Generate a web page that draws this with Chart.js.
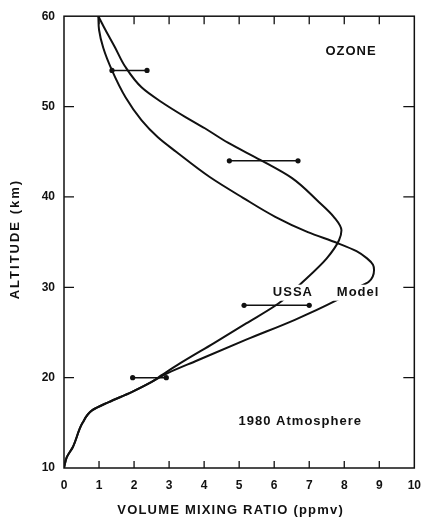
<!DOCTYPE html>
<html>
<head>
<meta charset="utf-8">
<script src="https://cdn.jsdelivr.net/npm/chart.js@4.4.1/dist/chart.umd.min.js"></script>
<style>
    html, body { margin: 0; padding: 0; background: #fff; }
    canvas { display: block; }
</style>
</head>
<body>
<canvas id="ozoneChart" width="431" height="519"></canvas>
<script>
// Okunan değerler (ppmv, km) - irtifa artan sırada
const ussaMix = [0.0, 0.08, 0.25, 0.53, 0.81, 1.28, 1.93, 2.49, 2.8, 3.32, 4.27, 5.2, 6.12, 6.79, 7.5, 7.85, 7.92, 7.7, 7.23, 6.5, 5.6, 4.68, 4.02, 3.48, 2.78, 2.22, 1.75, 1.45, 1.18, 0.98];
const ussaAlt = [10, 11.2, 12.3, 15.0, 16.4, 17.3, 18.4, 19.5, 20.3, 21.6, 23.8, 26.0, 28.2, 30.5, 33.2, 35.2, 36.3, 37.8, 39.6, 42.1, 44.1, 46.0, 47.6, 48.8, 50.5, 52.1, 54.4, 56.6, 58.5, 60];

const modelMix = [0.0, 0.08, 0.25, 0.53, 0.81, 1.28, 1.93, 2.49, 2.96, 3.8, 5.2, 6.59, 7.7, 8.35, 8.7, 8.85, 8.82, 8.65, 8.35, 7.8, 6.96, 6.03, 5.11, 4.16, 3.2, 2.68, 2.21, 1.76, 1.37, 1.12, 1.0, 0.98];
const modelAlt = [10, 11.2, 12.3, 15.0, 16.4, 17.3, 18.4, 19.5, 20.5, 21.9, 24.2, 26.4, 28.4, 29.9, 30.6, 31.9, 32.5, 33.2, 34.0, 34.9, 36.1, 37.8, 39.9, 42.2, 45.0, 46.6, 48.5, 51.0, 54.0, 56.5, 58.5, 60];

// Hata çubukları
const barAlt = [54, 44, 28, 20];
const barLow = [1.37, 4.72, 5.14, 1.96];
const barHigh = [2.37, 6.68, 7.0, 2.92];

const xTickValues = [0, 1, 2, 3, 4, 5, 6, 7, 8, 9, 10];
const yTickValues = [10, 20, 30, 40, 50, 60];

const toPoints = (xs, ys) => xs.map((x, i) => ({ x: x, y: ys[i] }));

const curveStyle = {
    showLine: true,
    borderColor: "#111",
    borderWidth: 2,
    pointRadius: 0,
    cubicInterpolationMode: "monotone",
    fill: false,
};

const datasets = [
    { label: "USSA", data: toPoints(ussaMix, ussaAlt), ...curveStyle },
    { label: "Model", data: toPoints(modelMix, modelAlt), ...curveStyle },
];

barAlt.forEach((alt, i) => {
    datasets.push({
        label: "bar" + i,
        data: [{ x: barLow[i], y: alt }, { x: barHigh[i], y: alt }],
        showLine: true,
        borderColor: "#111",
        borderWidth: 1.5,
        pointRadius: 2.6,
        pointBackgroundColor: "#111",
        pointBorderWidth: 0,
        cubicInterpolationMode: "default",
        tension: 0,
    });
});

// Metin etiketleri (veri koordinatlarında)
const notes = [
    { text: "OZONE", x: 8.18, y: 56.1, knock: false },
    { text: "1980 Atmosphere", x: 6.73, y: 15.2, knock: false },
    { text: "USSA", x: 6.52, y: 29.4, knock: true },
    { text: "Model", x: 8.38, y: 29.4, knock: true },
];

const FONT = "'Liberation Sans', Arial, sans-serif";

function spacedText(ctx, text, x, y, spacing) {
    ctx.letterSpacing = spacing + "px";
    // sondaki boşluğu dengele
    ctx.fillText(text, x + spacing / 2, y);
    ctx.letterSpacing = "0px";
}

// Çerçeve, içe dönük çentikler, eksen başlıkları ve etiketler
const framePlugin = {
    id: "frame",
    afterDatasetsDraw(chart) {
        const ctx = chart.ctx;
        const xs = chart.scales.x;
        const ys = chart.scales.y;
        const a = chart.chartArea;
        ctx.save();
        ctx.strokeStyle = "#111";
        ctx.lineWidth = 1.5;
        ctx.strokeRect(a.left, a.top, a.right - a.left, a.bottom - a.top);

        ctx.lineWidth = 1.3;
        ctx.beginPath();
        xTickValues.slice(1, -1).forEach(v => {
            const px = xs.getPixelForValue(v);
            ctx.moveTo(px, a.bottom);
            ctx.lineTo(px, a.bottom - 7);
            ctx.moveTo(px, a.top);
            ctx.lineTo(px, a.top + 8);
        });
        yTickValues.slice(1, -1).forEach(v => {
            const py = ys.getPixelForValue(v);
            ctx.moveTo(a.left, py);
            ctx.lineTo(a.left + 10, py);
            ctx.moveTo(a.right, py);
            ctx.lineTo(a.right - 11, py);
        });
        ctx.stroke();

        ctx.font = "bold 13px " + FONT;
        ctx.textAlign = "center";
        ctx.textBaseline = "middle";
        notes.forEach(n => {
            const px = xs.getPixelForValue(n.x);
            const py = ys.getPixelForValue(n.y);
            if (n.knock) {
                ctx.letterSpacing = "1px";
                const w = ctx.measureText(n.text).width;
                ctx.letterSpacing = "0px";
                ctx.fillStyle = "#fff";
                ctx.fillRect(px - w / 2 - 3, py - 8, w + 6, 16);
            }
            ctx.fillStyle = "#111";
            spacedText(ctx, n.text, px, py, 1);
        });

        // Eksen başlıkları
        spacedText(ctx, "VOLUME MIXING RATIO (ppmv)", a.left + 166, chart.height - 9, 1.2);
        ctx.translate(15, (a.top + a.bottom) / 2 - 2);
        ctx.rotate(-Math.PI / 2);
        spacedText(ctx, "ALTITUDE (km)", 0, 0, 2);
        ctx.restore();
    }
};

new Chart(document.getElementById("ozoneChart"), {
    type: "scatter",
    data: { datasets: datasets },
    plugins: [framePlugin],
    options: {
        responsive: false,
        animation: false,
        devicePixelRatio: 1,
        indexAxis: "y",
        layout: { padding: { top: 16, right: 10, left: 0, bottom: 0 } },
        plugins: { legend: { display: false }, tooltip: { enabled: false } },
        scales: {
            x: {
                type: "linear",
                min: 0,
                max: 10,
                afterFit: s => { s.height = 51; },
                grid: { display: false, drawTicks: false },
                border: { display: false },
                ticks: {
                    stepSize: 1,
                    padding: 10,
                    color: "#111",
                    font: { family: FONT, size: 12, weight: "bold" },
                },
            },
            y: {
                type: "linear",
                min: 10,
                max: 60,
                afterFit: s => { s.width = 64; },
                grid: { display: false, drawTicks: false },
                border: { display: false },
                ticks: {
                    stepSize: 10,
                    padding: 9,
                    color: "#111",
                    font: { family: FONT, size: 12, weight: "bold" },
                },
            },
        },
    },
});
</script>
</body>
</html>
